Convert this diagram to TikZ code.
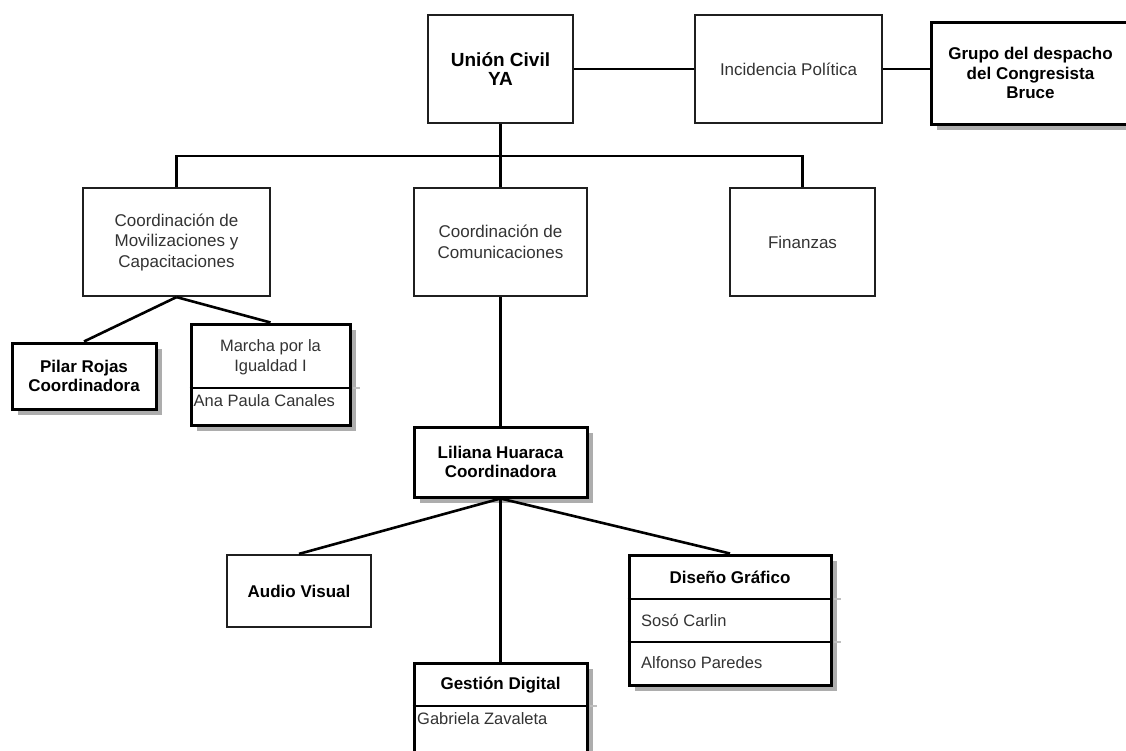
\documentclass[tikz,border=0pt]{standalone}
\usepackage{fontspec}
\setmainfont{Liberation Sans}
\usetikzlibrary{shadows}
\begin{document}
\begin{tikzpicture}[x=1pt,y=-1pt,
  box/.style={draw=black!88, line width=2.2pt, fill=white, inner sep=0pt, align=center,
    font=\fontsize{17}{20.5}\selectfont, text=black!80},
  heavybox/.style={box, draw=black, line width=3pt, font=\fontsize{17}{19.5}\selectfont\bfseries, text=black,
    drop shadow={shadow xshift=6pt, shadow yshift=-6pt, fill=black!32, opacity=1}},
  boldtext/.style={font=\fontsize{17}{19.5}\selectfont\bfseries, text=black},
  bodytext/.style={font=\fontsize{16.5}{20}\selectfont, text=black!80, inner sep=0pt},
  link/.style={line width=2.6pt, black},
  divider/.style={line width=2.2pt, black},
  shadetick/.style={line width=1.6pt, black!25}
]
\useasboundingbox (0,0) rectangle (1126,750);

% top row
\node[box, minimum width=145pt, minimum height=108pt, text=black,
      font=\fontsize{19}{19}\selectfont\bfseries] (union) at (500.5,69) {Unión Civil\\YA};
\node[box, minimum width=187pt, minimum height=108pt] (incid) at (788.5,69) {Incidencia Política};
\node[heavybox, minimum width=199pt, minimum height=102pt] (grupo) at (1030.5,73) {Grupo del despacho\\del Congresista\\Bruce};

% second row
\node[box, minimum width=187pt, minimum height=108pt] (coordmov) at (176.5,242) {Coordinación de\\Movilizaciones y\\Capacitaciones};
\node[box, minimum width=173pt, minimum height=108pt] (coordcom) at (500.5,242) {Coordinación de\\Comunicaciones};
\node[box, minimum width=145pt, minimum height=108pt] (finanzas) at (802.5,242) {Finanzas};

% third row
\node[heavybox, minimum width=144pt, minimum height=66pt] (pilar) at (84,376) {Pilar Rojas\\Coordinadora};
\node[heavybox, minimum width=159pt, minimum height=101pt] (marcha) at (270.5,374.5) {};
\node[heavybox, minimum width=173pt, minimum height=70pt] (liliana) at (500.5,462) {Liliana Huaraca\\Coordinadora};

% bottom row
\node[box, minimum width=144pt, minimum height=72pt, font=\fontsize{17}{19.5}\selectfont\bfseries, text=black] (audio) at (299,591) {Audio Visual};
\node[heavybox, minimum width=173pt, minimum height=92pt] (gestion) at (500.5,709) {};
\node[heavybox, minimum width=202pt, minimum height=130pt] (diseno) at (730,620) {};

% compartments: Marcha
\coordinate (mdiv) at (0,388);
\draw[shadetick] ([xshift=1.5pt]marcha.east |- mdiv) -- ++(6.5,0);
\draw[divider] (marcha.west |- mdiv) -- (marcha.east |- mdiv);
\node[bodytext, align=center] (marchatitle) at (270.5,357) {Marcha por la\\Igualdad I};
\node[bodytext, anchor=west] (ana) at (193.5,401) {Ana Paula Canales};

% compartments: Gestion
\coordinate (gdiv) at (0,706);
\draw[shadetick] ([xshift=1.5pt]gestion.east |- gdiv) -- ++(6.5,0);
\draw[divider] (gestion.west |- gdiv) -- (gestion.east |- gdiv);
\node[boldtext] (gestiontitle) at (500.5,685) {Gestión Digital};
\node[bodytext, anchor=west] (gabriela) at (417,719) {Gabriela Zavaleta};

% compartments: Diseno
\coordinate (ddiv1) at (0,599);
\coordinate (ddiv2) at (0,642);
\draw[shadetick] ([xshift=1.5pt]diseno.east |- ddiv1) -- ++(6.5,0);
\draw[shadetick] ([xshift=1.5pt]diseno.east |- ddiv2) -- ++(6.5,0);
\draw[divider] (diseno.west |- ddiv1) -- (diseno.east |- ddiv1);
\draw[divider] (diseno.west |- ddiv2) -- (diseno.east |- ddiv2);
\node[boldtext] (disenotitle) at (730,577) {Diseño Gráfico};
\node[bodytext, anchor=west] (soso) at (641,620) {Sosó Carlin};
\node[bodytext, anchor=west] (alfonso) at (641,663) {Alfonso Paredes};

% connectors
\coordinate (bus) at (500.5,156);
\draw[link] (union.east) -- (incid.west);
\draw[link] (incid.east) -- (incid.east -| grupo.west);
\draw[link] (union.south) -- (coordcom.north);
\draw[link] (coordmov.north) |- (bus) -| (finanzas.north);
\draw[link] (coordmov.south) -- (pilar.north);
\draw[link] (coordmov.south) -- (marcha.north);
\draw[link] (coordcom.south) -- (liliana.north);
\draw[link] (liliana.south) -- (audio.north);
\draw[link] (liliana.south) -- (gestion.north);
\draw[link] (liliana.south) -- (diseno.north);
\end{tikzpicture}
\end{document}
